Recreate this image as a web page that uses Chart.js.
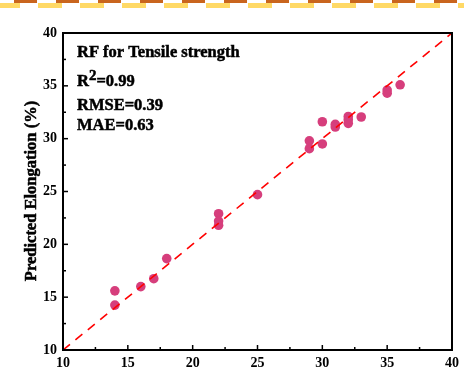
<!DOCTYPE html>
<html lang="en">

<head>
    <meta charset="UTF-8">
    <title>RF Elongation</title>
    <style>
        body { margin: 0; background: #fff; }
        #wrap { width: 464px; height: 381px; position: relative; }
    </style>
</head>

<body>
    <div id="wrap">
        <canvas id="myChart"></canvas>
    </div>

    <script src="https://cdn.jsdelivr.net/npm/chart.js"></script>

    <script>
        // measured vs predicted elongation (%)
        var actual = [14, 14, 16, 17, 18, 22, 22, 22, 25, 29, 29, 30, 30, 31, 31, 32, 32, 32, 33, 35, 35, 36];
        var predicted = [15.6, 14.25, 16.0, 16.75, 18.65, 22.9, 22.2, 21.8, 24.7, 29.8, 29.05, 29.5, 31.6,
            31.35, 31.1, 32.1, 31.8, 31.45, 32.05, 34.6, 34.3, 35.1];
        var axisMin = 10;
        var axisMax = 40;
        var tickValues = [10, 15, 20, 25, 30, 35, 40];
        var statLines = ["RF for Tensile strength", "=0.99", "RMSE=0.39", "MAE=0.63"];

        var SERIF = '"Liberation Serif", "Times New Roman", serif';

        var points = actual.map((a, i) => ({ x: a, y: predicted[i] }));

        // text drawn bold with a thin outline so it reads as heavy as Times Bold
        function heavyText(ctx, str, x, y) {
            ctx.fillText(str, x, y);
            ctx.lineWidth = 0.5;
            ctx.strokeStyle = "#000";
            ctx.strokeText(str, x, y);
        }

        // inward ticks, frame, stats text and the striped strip at the top
        var decorations = {
            id: "decorations",
            afterDraw(chart) {
                const ctx = chart.ctx;
                const area = chart.chartArea;
                const xs = chart.scales.x;
                const ys = chart.scales.y;
                ctx.save();

                // top strip
                for (let x = -4; x < 464; x += 42) {
                    ctx.fillStyle = "#ffd966";
                    ctx.fillRect(x, 3, 24, 5);
                    ctx.fillStyle = "#c9651e";
                    ctx.fillRect(x + 18, 0, 23, 3);
                }

                // ticks pointing into the plot
                ctx.strokeStyle = "#000";
                ctx.lineWidth = 1.5;
                for (let v = axisMin + 2.5; v < axisMax; v += 2.5) {
                    const len = (v % 5 === 0) ? 5 : 3;
                    const px = xs.getPixelForValue(v);
                    ctx.beginPath();
                    ctx.moveTo(px, area.bottom);
                    ctx.lineTo(px, area.bottom - len);
                    ctx.stroke();
                    const py = ys.getPixelForValue(v);
                    ctx.beginPath();
                    ctx.moveTo(area.left, py);
                    ctx.lineTo(area.left + len, py);
                    ctx.stroke();
                }

                // frame
                ctx.lineWidth = 2;
                ctx.strokeRect(area.left, area.top, area.right - area.left, area.bottom - area.top);

                // stats text
                ctx.fillStyle = "#000";
                ctx.textAlign = "left";
                ctx.textBaseline = "alphabetic";
                ctx.font = "bold 16.5px " + SERIF;
                heavyText(ctx, statLines[0], 77, 57);
                heavyText(ctx, "R", 77, 86);
                let rw = ctx.measureText("R").width;
                ctx.font = "bold 15px " + SERIF;
                heavyText(ctx, "2", 77 + rw, 80);
                let tw = ctx.measureText("2").width;
                ctx.font = "bold 16.5px " + SERIF;
                heavyText(ctx, statLines[1], 77 + rw + tw, 86);
                heavyText(ctx, statLines[2], 77, 110);
                heavyText(ctx, statLines[3], 77, 130);

                // y axis title
                ctx.translate(32, 191);
                ctx.rotate(-Math.PI / 2);
                ctx.textAlign = "center";
                ctx.textBaseline = "middle";
                ctx.font = "bold 16.5px " + SERIF;
                heavyText(ctx, "Predicted Elongation (%)", 0, 0);
                ctx.restore();
            }
        };

        var tickFont = { family: SERIF, size: 14, weight: "bold" };

        var chart = new Chart("myChart", {
            type: "scatter",
            data: {
                datasets: [{
                    type: "line",
                    label: "y = x",
                    data: [{ x: axisMin, y: axisMin }, { x: axisMax, y: axisMax }],
                    borderColor: "#ff0000",
                    borderWidth: 1.6,
                    borderDash: [9, 7],
                    pointRadius: 0,
                    fill: false
                },
                {
                    label: "RF",
                    data: points,
                    backgroundColor: "rgb(214, 62, 124)",
                    borderColor: "rgb(214, 62, 124)",
                    borderWidth: 0,
                    pointRadius: 4.8
                }]
            },
            options: {
                responsive: true,
                maintainAspectRatio: false,
                animation: false,
                layout: { padding: { top: 33, right: 9, left: 0, bottom: 0 } },
                plugins: {
                    legend: { display: false },
                    tooltip: { enabled: false }
                },
                scales: {
                    x: {
                        type: "linear",
                        min: axisMin,
                        max: axisMax,
                        afterBuildTicks: s => { s.ticks = tickValues.map(v => ({ value: v })); },
                        afterFit: s => { s.height = 31; },
                        grid: { display: false, drawTicks: false },
                        border: { display: false },
                        ticks: { padding: 5, color: "#000", font: tickFont }
                    },
                    y: {
                        type: "linear",
                        min: axisMin,
                        max: axisMax,
                        afterBuildTicks: s => { s.ticks = tickValues.map(v => ({ value: v })); },
                        afterFit: s => { s.width = 63; },
                        grid: { display: false, drawTicks: false },
                        border: { display: false },
                        ticks: { padding: 6, color: "#000", font: tickFont }
                    }
                }
            },
            plugins: [decorations]
        });
    </script>
</body>

</html>
